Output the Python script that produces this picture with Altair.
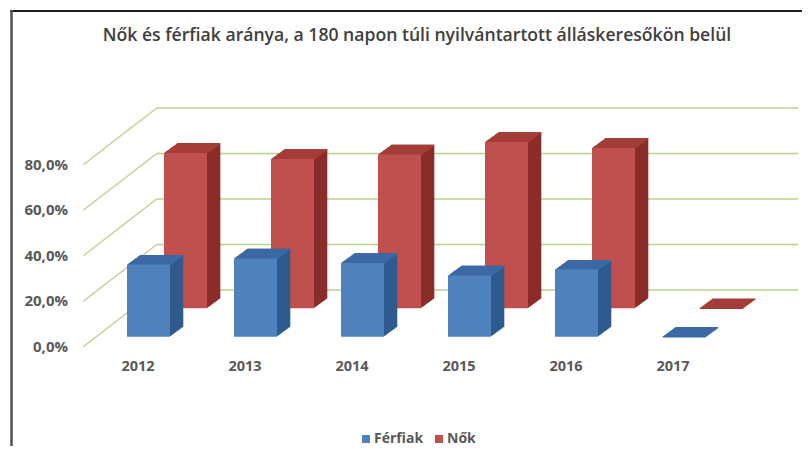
import altair as alt
import pandas as pd

# ---- data ----
years = ["2012", "2013", "2014", "2015", "2016", "2017"]
ferfiak = [0.317, 0.344, 0.324, 0.269, 0.295, 0.0]
nok = [0.683, 0.656, 0.676, 0.731, 0.705, 0.0]
series = ["Férfiak", "Nők"]
ticks = [0.0, 0.2, 0.4, 0.6, 0.8]
title_text = "Nők és férfiak aránya, a 180 napon túli nyilvántartott álláskeresőkön belül"

# ---- styles ----
front_colors = ["#4F81BD", "#C0504D"]
side_colors = ["#2F5B8F", "#8B2D2A"]
top_colors = ["#3D69A5", "#A43C38"]
grid_color = "#B9D28C"
label_color = "#595959"
FONT = "Open Sans"

row_shift = [(0.0, 0.0), (37.0, -28.4)]  # pixel shift of the back row
depth = (13.3, -9.7)                       # pixel depth of each box
N = 16
back_shift = -46.7                         # back wall vs. front plane

df = pd.DataFrame({
    "year": years * 2,
    "series": [series[0]] * len(years) + [series[1]] * len(years),
    "value": ferfiak + nok,
})
tick_df = pd.DataFrame({"tick": ticks})
one = pd.DataFrame({"a": [0]})

x_scale = alt.Scale(domain=years, range=[87, 729], paddingInner=0.598, paddingOuter=0.299)
y_scale = alt.Scale(domain=[0, 0.8], range=[280.7, 98.7], nice=False)

X = alt.X("year:N", scale=x_scale, axis=None)
Y = alt.Y("value:Q", scale=y_scale, axis=None)

layers = []

# frame (top and left border)
layers.append(alt.Chart(one).mark_rule(color="#1E1E1E", strokeWidth=2).encode(
    x=alt.value(2), x2=alt.value(802), y=alt.value(-45)))
layers.append(alt.Chart(one).mark_rule(color="#505050", strokeWidth=2.5).encode(
    x=alt.value(3.5), y=alt.value(-46), y2=alt.value(400)))

# back wall gridlines and side-wall diagonals
layers.append(alt.Chart(tick_df).mark_rule(color=grid_color, strokeWidth=1.3, yOffset=back_shift).encode(
    x=alt.value(148.7), x2=alt.value(790),
    y=alt.Y("tick:Q", scale=y_scale, axis=None)))
layers.append(alt.Chart(tick_df).mark_rule(color=grid_color, strokeWidth=1.3, yOffset=10, y2Offset=back_shift).encode(
    x=alt.value(75.3), x2=alt.value(148.7),
    y=alt.Y("tick:Q", scale=y_scale, axis=None), y2=alt.Y2("tick:Q")))

legend = alt.Legend(title=None, orient="none", legendX=351, legendY=376, direction="horizontal",
                    symbolType="square", symbolSize=64, symbolStrokeWidth=0,
                    labelFont=FONT, labelFontSize=14, labelFontWeight="bold",
                    labelColor=label_color, columnPadding=8, labelOffset=1, padding=0)


def box_layers(s):
    base = alt.Chart(df).transform_filter(alt.datum.series == series[s])
    ox, oy = row_shift[s]
    out = []
    step_y = abs(depth[1]) / N + 0.7
    for k in range(N, 0, -1):
        dx = ox + depth[0] * k / N
        dy = oy + depth[1] * k / N
        out.append(base.mark_bar(color=side_colors[s], xOffset=dx, x2Offset=dx,
                                 yOffset=dy, y2Offset=dy).encode(x=X, y=Y, y2=alt.datum(0)))
    for k in range(N, 0, -1):
        dx = ox + depth[0] * k / N
        dy = oy + depth[1] * k / N
        out.append(base.mark_bar(color=top_colors[s], xOffset=dx, x2Offset=dx,
                                 yOffset=dy, y2Offset=dy + step_y).encode(
            x=X, y=Y, y2=alt.Y2("value:Q")))
    out.append(base.mark_bar(xOffset=ox, x2Offset=ox, yOffset=oy, y2Offset=oy).encode(
        x=X, y=Y, y2=alt.datum(0),
        color=alt.Color("series:N", scale=alt.Scale(domain=series, range=front_colors), legend=legend)))
    return out


layers += box_layers(1)
layers += box_layers(0)

# axis labels
layers.append(alt.Chart(tick_df).transform_calculate(
    lbl="replace(format(datum.tick, '.1%'), '.', ',')").mark_text(
    align="right", baseline="middle", dy=10, font=FONT, fontSize=15, fontWeight="bold",
    color=label_color).encode(
    x=alt.value(60), y=alt.Y("tick:Q", scale=y_scale, axis=None), text="lbl:N"))
layers.append(alt.Chart(pd.DataFrame({"year": years})).mark_text(
    align="center", baseline="middle", dx=-10.5, font=FONT, fontSize=14.5, fontWeight="bold",
    color=label_color).encode(x=X, y=alt.value(310.7), text="year:N"))

chart = alt.layer(*layers).properties(
    width=794, height=390,
    title=alt.TitleParams(title_text, anchor="middle", frame="group", fontSize=17.6, font=FONT,
                          fontWeight=600, color="#404040", offset=-36, dx=12),
    autosize=alt.AutoSizeParams(type="none"),
    padding={"left": 0, "top": 48, "right": 0, "bottom": 0},
).configure_view(stroke=None)

chart.save("out.html", embed_options={"renderer": "svg", "actions": False})
